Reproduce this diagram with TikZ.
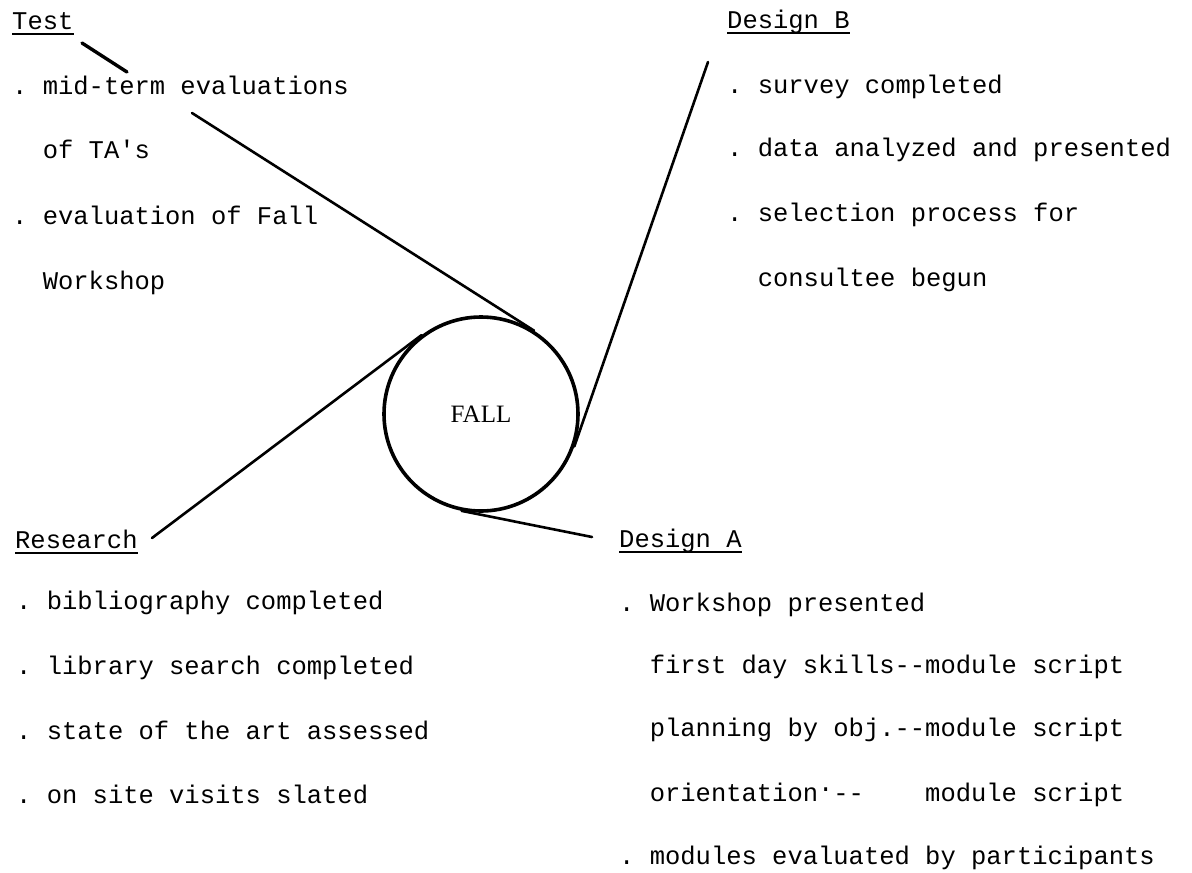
\documentclass[tikz,border=0pt]{standalone}
\usepackage{fontspec}
\setmainfont{Liberation Serif}
\setmonofont{Liberation Mono}
\usetikzlibrary{calc}
\begin{document}
\begin{tikzpicture}[x=1pt,y=-1pt,
  tw/.style={anchor=base west, inner sep=0pt, font=\ttfamily\fontsize{25.5}{30}\selectfont},
  conn/.style={line width=2.6pt, line cap=round},
  ul/.style={line width=1.6pt},
  hub/.style={draw, circle, minimum size=194pt, inner sep=0pt, line width=3.6pt,
              font=\rmfamily\fontsize{25}{30}\selectfont}]
\useasboundingbox (0,0) rectangle (1192,873);

% centre
\node[hub] (fall) at (481,414) {FALL};

% Test
\node[tw] (test) at (12,29) {Test};
\draw[ul] ([yshift=-5pt]test.base west) -- ([yshift=-5pt]test.base east);
\node[tw] (t1l) at (12,94)  {. mid-term evaluations};
\node[tw] (t2l) at (12,158) {~~of TA's};
\node[tw] (t3l) at (12,224) {. evaluation of Fall};
\node[tw] (t4l) at (12,289) {~~Workshop};

% Design B
\node[tw] (db) at (727,28) {Design B};
\draw[ul] ([yshift=-5pt]db.base west) -- ([yshift=-5pt]db.base east);
\node[tw] (b1) at (727,93)  {. survey completed};
\node[tw] (b2) at (727,156) {. data analyzed and presented};
\node[tw] (b3) at (727,221) {. selection process for};
\node[tw] (b4) at (727,286) {~~consultee begun};

% Research
\node[tw] (res) at (15,548) {Research};
\draw[ul] ([yshift=-5pt]res.base west) -- ([yshift=-5pt]res.base east);
\node[tw] (r1) at (16,609) {. bibliography completed};
\node[tw] (r2) at (16,674) {. library search completed};
\node[tw] (r3) at (16,739) {. state of the art assessed};
\node[tw] (r4) at (16,803) {. on site visits slated};

% Design A
\node[tw] (da) at (619,547) {Design A};
\draw[ul] ([yshift=-5pt]da.base west) -- ([yshift=-5pt]da.base east);
\node[tw] (a1) at (619,611) {. Workshop presented};
\node[tw] (a2) at (619,673) {~~first day skills--module script};
\node[tw] (a3) at (619,736) {~~planning by obj.--module script};
\node[tw] (a4) at (619,801) {~~orientation\raisebox{0.38em}{.}--~~~~module script};
\node[tw] (a5) at (619,864) {. modules evaluated by participants};

% connector end points
\coordinate (tA) at (82,43);
\coordinate (tB) at (127,72);
\coordinate (tC) at (192,113);
\coordinate (bP) at (708,62);
\coordinate (rP) at (152,538);
\coordinate (aP) at (592,537);

% connectors
\draw[conn, line width=3.4pt] (tA) -- (tB);
\draw[conn] (tC) -- (tangent cs:node=fall,point={(tC)},solution=2);
\draw[conn] (bP) -- (tangent cs:node=fall,point={(bP)},solution=2);
\draw[conn] (rP) -- (tangent cs:node=fall,point={(rP)},solution=2);
\draw[conn] (aP) -- (tangent cs:node=fall,point={(aP)},solution=2);
\end{tikzpicture}
\end{document}
